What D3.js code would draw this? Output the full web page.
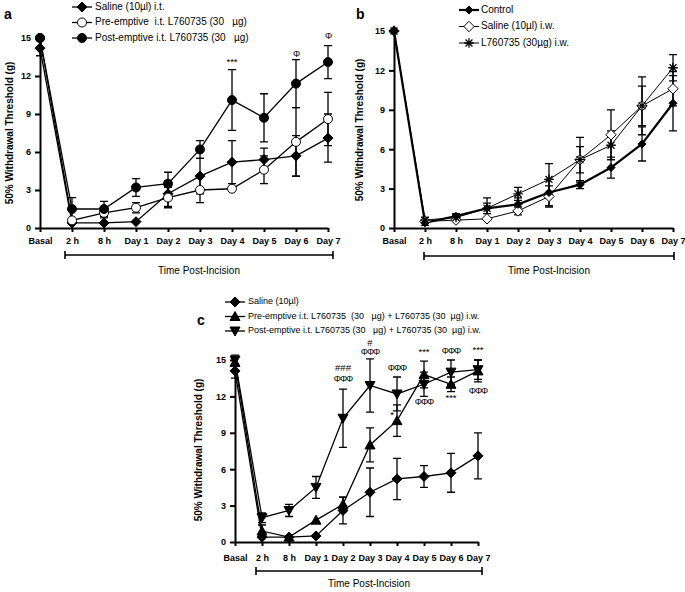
<!DOCTYPE html>
<html><head><meta charset="utf-8">
<script src="https://cdn.jsdelivr.net/npm/d3@7"></script>
<style>
body{margin:0;background:#fff;}
text{font-family:"Liberation Sans",Arial,sans-serif;fill:#000;}
</style></head>
<body>
<svg id="chart" width="685" height="592"></svg>
<script>
const categories = ["Basal","2 h","8 h","Day 1","Day 2","Day 3","Day 4","Day 5","Day 6","Day 7"];
const yTicks = [0,3,6,9,12,15];

// Panel a
const aSaline    = [14.2,0.4,0.4,0.5,2.7,4.1,5.2,5.4,5.7,7.1];
const aSalineErr = [0.6,0,0,0,1.0,1.4,1.7,0.9,1.6,1.9];
const aPre       = [15,0.6,1.2,1.6,2.4,3.0,3.1,4.6,6.8,8.6];
const aPreErr    = [0,0,0.4,0.4,0.8,1.0,0,1.1,2.7,2.1];
const aPost      = [15,1.5,1.5,3.2,3.5,6.2,10.1,8.7,11.4,13.1];
const aPostErr   = [0,0.9,0.6,0.7,0.9,0.7,2.4,1.9,1.9,1.3];
const aNoteCats  = ["Day 4","Day 6","Day 7"];
const aNoteText  = ["***","Φ","Φ"];
const aNoteLevel = [13.1,13.7,15.1];

// Panel b
const bControl    = [15,0.4,0.9,1.5,1.8,2.7,3.3,4.6,6.4,9.5];
const bControlErr = [0,0.2,0.2,0.8,0.5,1.0,0.3,0.8,1.3,2.1];
const bSaline     = [15,0.5,0.6,0.7,1.3,2.4,5.2,7.1,9.3,10.6];
const bSalineErr  = [0,0,0,0,0.3,0.8,1.7,1.9,2.2,1.3];
const bDrug       = [15,0.6,0.8,1.5,2.6,3.7,5.2,6.3,9.3,12.2];
const bDrugErr    = [0,0.2,0.2,0.4,0.5,1.2,1.0,1.1,1.5,1.0];

// Panel c
const cSaline    = [14.1,0.4,0.4,0.5,2.6,4.1,5.2,5.4,5.7,7.1];
const cSalineErr = [0.6,0,0,0,1.1,2.0,1.7,0.9,1.6,1.9];
const cPre       = [14.8,0.9,0.4,1.8,3.1,8.0,10.0,13.8,13.0,14.1];
const cPreErr    = [0,0.5,0,0,0.6,1.4,1.3,1.1,0.6,0.9];
const cPost      = [15,2.0,2.6,4.5,10.2,12.9,12.2,13.0,14.0,14.2];
const cPostErr   = [0.4,0.4,0.5,0.9,2.4,2.2,1.4,1.0,1.0,0.8];
const cNoteCats  = ["Day 2","Day 2","Day 3","Day 3","Day 4","Day 4","Day 5","Day 5","Day 6","Day 6","Day 7","Day 7"];
const cNoteText  = ["###","ΦΦΦ","#","ΦΦΦ","ΦΦΦ","*","***","ΦΦΦ","ΦΦΦ","***","***","ΦΦΦ"];
const cNoteLevel = [14.3,13.4,16.4,15.6,14.3,10.4,15.6,11.5,15.7,11.8,15.8,12.4];

const svg = d3.select("#chart");

function markerPath(type, s){
  switch(type){
    case "diamond": return `M0,${-s}L${s},0L0,${s}L${-s},0Z`;
    case "circle": return `M${s},0A${s},${s} 0 1,1 ${-s},0A${s},${s} 0 1,1 ${s},0Z`;
    case "up": return `M0,${-s}L${s},${s*0.8}L${-s},${s*0.8}Z`;
    case "down": return `M0,${s}L${s},${-s*0.8}L${-s},${-s*0.8}Z`;
    case "star": {
      const d=s*0.72;
      return `M${-s},0L${s},0M0,${-s}L0,${s}M${-d},${-d}L${d},${d}M${-d},${d}L${d},${-d}`;
    }
  }
}

function drawMarker(g, type, fill, s, x, y){
  g.append("path").attr("d",markerPath(type,s)).attr("transform",`translate(${x},${y})`)
    .attr("fill", type==="star" ? "none" : fill)
    .attr("stroke","#000").attr("stroke-width", type==="star"?1.3:1);
}

function panel(cfg){
  const g = svg.append("g");
  const x = d3.scalePoint().domain(categories).range([cfg.x0,cfg.x1]);
  const y = d3.scaleLinear().domain([0,15]).range([cfg.yb,cfg.yt]);

  const ya = g.append("g").attr("transform",`translate(${cfg.x0},0)`)
    .call(d3.axisLeft(y).tickValues(yTicks).tickSize(5).tickSizeOuter(0).tickPadding(4));
  ya.select(".domain").attr("stroke-width",2);
  ya.selectAll(".tick line").attr("stroke-width",2);
  ya.selectAll("text").attr("font-size",9).attr("font-weight","bold").attr("font-family","Liberation Sans, Arial, sans-serif");

  const xa = g.append("g").attr("transform",`translate(0,${cfg.yb})`)
    .call(d3.axisBottom(x).tickSize(4).tickSizeOuter(0).tickPadding(cfg.xPad));
  xa.select(".domain").attr("stroke-width",2);
  xa.selectAll(".tick line").attr("stroke-width",2);
  xa.selectAll("text").attr("font-size",9).attr("font-weight","bold").attr("font-family","Liberation Sans, Arial, sans-serif");

  const by = cfg.yb + cfg.bracketOff;
  const bx0 = x("2 h")-cfg.bracketPadL, bx1 = x("Day 7")+cfg.bracketPadR;
  g.append("path").attr("d",`M${bx0},${by}H${bx1}M${bx0},${by-4}V${by+4}M${bx1},${by-4}V${by+4}`)
    .attr("stroke","#000").attr("stroke-width",1.6).attr("fill","none");
  g.append("text").attr("x",(bx0+bx1)/2).attr("y",by+cfg.titleOff).attr("text-anchor","middle")
    .attr("font-size",10).text("Time Post-Incision");

  g.append("text").attr("transform",`translate(${cfg.ylx},${cfg.yly}) rotate(-90)`)
    .attr("text-anchor","middle").attr("font-size",10).attr("font-weight","bold")
    .text("50% Withdrawal Threshold (g)");

  g.append("text").attr("x",cfg.lx).attr("y",cfg.ly).attr("font-size",14).attr("font-weight","bold").text(cfg.letter);

  cfg.series.forEach(s=>{
    const line = d3.line().x((d,i)=>x(categories[i])).y(d=>y(d));
    g.append("path").attr("d",line(s.vals)).attr("fill","none").attr("stroke","#000").attr("stroke-width",s.lw);
  });
  cfg.series.forEach(s=>{
    s.vals.forEach((v,i)=>{
      const e = s.errs[i]; if(!e) return;
      const cx = x(categories[i]);
      const y1 = y(v+e), y2 = y(v-e);
      g.append("path").attr("d",`M${cx},${y1}V${y2}M${cx-4},${y1}H${cx+4}M${cx-4},${y2}H${cx+4}`)
        .attr("stroke","#000").attr("stroke-width",1.3).attr("fill","none");
    });
  });
  cfg.series.forEach(s=>{
    s.vals.forEach((v,i)=>drawMarker(g,s.marker,s.fill,s.size,x(categories[i]),y(v)));
  });

  if(cfg.notes){
    cfg.notes.cats.forEach((c,i)=>{
      const isPhi = cfg.notes.text[i].startsWith("Φ");
      g.append("text").attr("x",x(c)+(cfg.notes.dx?cfg.notes.dx[i]:0)).attr("y",y(cfg.notes.level[i]))
        .attr("dominant-baseline","middle").attr("text-anchor","middle")
        .attr("font-size",isPhi?9:9.5)
        .attr("letter-spacing",isPhi?-1:0)
        .style("fill","#000")
        .attr("font-family", isPhi ? "DejaVu Sans, sans-serif" : "Liberation Sans, Arial, sans-serif")
        .text(cfg.notes.text[i]);
    });
  }

  cfg.legend.forEach((L,i)=>{
    const ly = cfg.legY + i*cfg.legDY;
    g.append("line").attr("x1",cfg.legX-10).attr("x2",cfg.legX+10).attr("y1",ly).attr("y2",ly)
      .attr("stroke","#000").attr("stroke-width",L.lw);
    drawMarker(g,L.marker,L.fill,L.size,cfg.legX,ly);
    g.append("text").attr("x",cfg.legX+cfg.legTX).attr("y",ly).attr("dominant-baseline","middle")
      .attr("font-size",cfg.legFS).style("white-space","pre").text(L.label);
  });
}

panel({
  letter:"a", lx:4, ly:19,
  x0:40, x1:328, yt:38, yb:228, xPad:6,
  bracketOff:27, bracketPadL:7, bracketPadR:5, titleOff:19,
  ylx:13, yly:133,
  series:[
    {vals:aSaline, errs:aSalineErr, marker:"diamond", fill:"#000", size:5, lw:1.3},
    {vals:aPre, errs:aPreErr, marker:"circle", fill:"#fff", size:4.5, lw:1.3},
    {vals:aPost, errs:aPostErr, marker:"circle", fill:"#000", size:4.5, lw:1.3}
  ],
  notes:{cats:aNoteCats, text:aNoteText, level:aNoteLevel},
  legend:[
    {label:"Saline (10µl) i.t.", marker:"diamond", fill:"#000", size:5, lw:1.3},
    {label:"Pre-emptive  i.t. L760735 (30   µg)", marker:"circle", fill:"#fff", size:4.5, lw:1.3},
    {label:"Post-emptive i.t. L760735 (30   µg)", marker:"circle", fill:"#000", size:4.5, lw:1.3}
  ],
  legX:82, legY:7, legDY:15.5, legTX:13, legFS:10
});

panel({
  letter:"b", lx:356, ly:19,
  x0:394, x1:673, yt:31, yb:228, xPad:6,
  bracketOff:28, bracketPadL:1, bracketPadR:1, titleOff:18,
  ylx:363, yly:130,
  series:[
    {vals:bSaline, errs:bSalineErr, marker:"diamond", fill:"#fff", size:5.2, lw:1},
    {vals:bDrug, errs:bDrugErr, marker:"star", fill:"none", size:4.8, lw:1},
    {vals:bControl, errs:bControlErr, marker:"diamond", fill:"#000", size:4, lw:2.2}
  ],
  legend:[
    {label:"Control", marker:"diamond", fill:"#000", size:4, lw:2.2},
    {label:"Saline (10µl) i.w.", marker:"diamond", fill:"#fff", size:5.2, lw:1},
    {label:"L760735 (30µg) i.w.", marker:"star", fill:"none", size:4.8, lw:1}
  ],
  legX:469, legY:10, legDY:16.5, legTX:12, legFS:10
});

panel({
  letter:"c", lx:197, ly:325,
  x0:235, x1:478, yt:360, yb:542, xPad:9,
  bracketOff:29, bracketPadL:6, bracketPadR:4, titleOff:16,
  ylx:202, yly:450,
  series:[
    {vals:cSaline, errs:cSalineErr, marker:"diamond", fill:"#000", size:5, lw:1.3},
    {vals:cPre, errs:cPreErr, marker:"up", fill:"#000", size:5, lw:1.3},
    {vals:cPost, errs:cPostErr, marker:"down", fill:"#000", size:5, lw:1.3}
  ],
  notes:{cats:cNoteCats, text:cNoteText, level:cNoteLevel, dx:[0,0,0,0,0,-5,0,0,0,0,0,0]},
  legend:[
    {label:"Saline (10µl)", marker:"diamond", fill:"#000", size:5, lw:1.3},
    {label:"Pre-emptive i.t. L760735  (30   µg) + L760735 (30  µg) i.w.", marker:"up", fill:"#000", size:5, lw:1.3},
    {label:"Post-emptive i.t. L760735 (30   µg) + L760735 (30  µg) i.w.", marker:"down", fill:"#000", size:5, lw:1.3}
  ],
  legX:235, legY:302, legDY:14.5, legTX:13, legFS:9
});
</script>
</body></html>
